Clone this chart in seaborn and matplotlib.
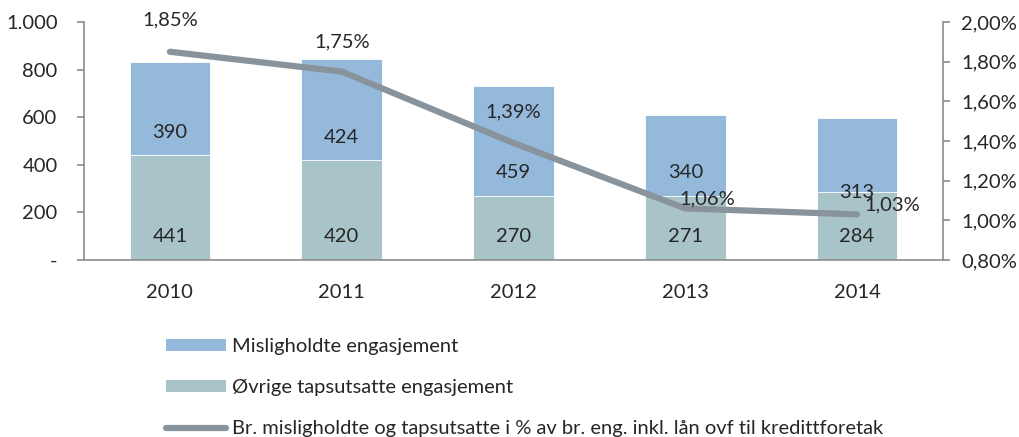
import numpy as np
import pandas as pd
import matplotlib
matplotlib.use('Agg')
import matplotlib.pyplot as plt
import seaborn as sns
from matplotlib.patches import Patch
from matplotlib.lines import Line2D

# Data
years = ['2010', '2011', '2012', '2013', '2014']
misligholdte = [390, 424, 459, 340, 313]
ovrige = [441, 420, 270, 271, 284]
andel_pct = [1.85, 1.75, 1.39, 1.06, 1.03]

label_mis = 'Misligholdte engasjement'
label_ovr = 'Øvrige tapsutsatte engasjement'
label_line = 'Br. misligholdte og tapsutsatte i % av br. eng. inkl. lån ovf til kredittforetak'

col_mis = '#95b9db'
col_ovr = '#a9c4c9'
col_line = '#89939c'
col_axis = '#8c8c8c'

sns.set_style('white')
plt.rcParams['font.family'] = ['Lato', 'DejaVu Sans']

df = pd.DataFrame({'year': years, 'mis': misligholdte, 'ovr': ovrige})
df['total'] = df['mis'] + df['ovr']

fig = plt.figure(figsize=(10.19, 4.37), dpi=100)
ax = fig.add_axes([84 / 1019, 1 - 260 / 437, (943 - 84) / 1019, (260 - 22) / 437])

# stacked bars: draw total first, then bottom part on top
sns.barplot(data=df, x='year', y='total', color=col_mis, width=0.47, saturation=1, ax=ax)
sns.barplot(data=df, x='year', y='ovr', color=col_ovr, width=0.47, saturation=1, ax=ax)
for p in ax.patches:
    p.set_edgecolor('white')
    p.set_linewidth(0.6)

ax.set_ylim(0, 1000)
ax.set_xlim(-0.5, 4.5)
ax.set_yticks([0, 200, 400, 600, 800, 1000])
ax.set_yticklabels(['-', '200', '400', '600', '800', '1.000'])
ax.set_xticks(range(5))
ax.set_xticklabels(years)
ax.set_xticks(np.arange(-0.5, 5, 1), minor=True)
ax.tick_params(axis='x', which='major', length=0, labelsize=14.5, pad=17)
ax.tick_params(axis='x', which='minor', length=6, width=1.2, color=col_axis, direction='out')
ax.tick_params(axis='y', length=5, width=1.2, color=col_axis, direction='out', labelsize=14.5, pad=14)
ax.set_xlabel('')
ax.set_ylabel('')
for side in ['top', 'right']:
    ax.spines[side].set_visible(False)
for side in ['left', 'bottom']:
    ax.spines[side].set_color(col_axis)
    ax.spines[side].set_linewidth(1.2)

# bar labels near the base of each segment
for i in range(len(years)):
    ax.annotate(str(ovrige[i]), (i, 0), xytext=(0, 23), textcoords='offset pixels',
                ha='center', va='center', fontsize=14.5)
    up = 0 if i == 4 else 23
    ax.annotate(str(misligholdte[i]), (i, ovrige[i]), xytext=(0, up), textcoords='offset pixels',
                ha='center', va='center', fontsize=14.5)

# line on secondary axis
ax2 = ax.twinx()
sns.lineplot(x=np.arange(len(years)), y=andel_pct, color=col_line, linewidth=4.5,
             solid_capstyle='round', ax=ax2)
ax2.set_ylim(0.8, 2.0)
ax2.set_xlim(-0.5, 4.5)
ax2.set_yticks(np.arange(0.8, 2.01, 0.2))
ax2.set_yticklabels([f'{v:.2f}%'.replace('.', ',') for v in np.arange(0.8, 2.01, 0.2)])
ax2.tick_params(axis='y', length=5, width=1.2, color=col_axis, direction='out', labelsize=14.5, pad=8)
for side in ['top', 'left', 'bottom']:
    ax2.spines[side].set_visible(False)
ax2.spines['right'].set_color(col_axis)
ax2.spines['right'].set_linewidth(1.2)

offsets = [(0, 32), (0, 30), (0, 31), (22, 10), (35, 10)]
for i, v in enumerate(andel_pct):
    ax2.annotate(f'{v:.2f}%'.replace('.', ','), (i, v), xytext=offsets[i],
                 textcoords='offset pixels', ha='center', va='center', fontsize=14.5)

handles = [Patch(facecolor=col_mis, edgecolor='none'),
           Patch(facecolor=col_ovr, edgecolor='none'),
           Line2D([0], [0], color=col_line, linewidth=4.5, solid_capstyle='round')]
fig.legend(handles, [label_mis, label_ovr, label_line], loc='upper left',
           bbox_to_anchor=(158 / 1019, 1 - 330 / 437), frameon=False, fontsize=14.5,
           handlelength=3.0, handleheight=0.55, handletextpad=0.25, labelspacing=1.2,
           borderaxespad=0)

fig.savefig('out.png', dpi=100)
